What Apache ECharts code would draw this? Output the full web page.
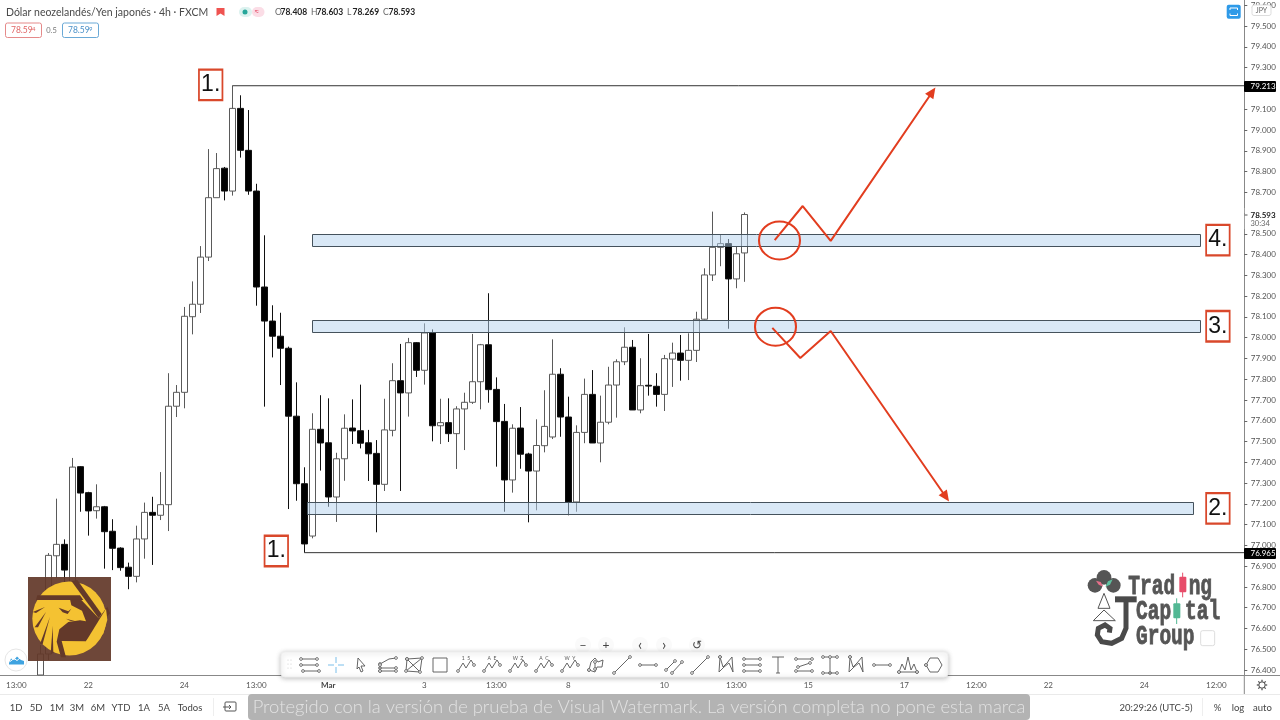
<!DOCTYPE html>
<html><head><meta charset="utf-8">
<style>html,body{margin:0;padding:0;background:#fff}#c{width:1280px;height:720px}</style>
<script src="https://cdn.jsdelivr.net/npm/echarts@6/dist/echarts.min.js"></script>
</head><body><div id="c"></div>
<script>
const firstCandleSlot = 5;
const candleOpen = [76.376,76.477,76.950,77.005,76.814,77.379,77.254,77.167,77.186,77.068,76.987,76.895,76.851,77.031,77.159,77.145,77.196,77.670,77.737,78.101,78.161,78.388,78.674,78.816,78.706,79.104,78.902,78.706,78.244,78.080,78.007,77.949,77.622,77.297,77.045,77.559,77.494,77.233,77.417,77.565,77.552,77.494,77.443,77.294,77.554,77.793,77.734,77.976,77.843,78.023,77.576,77.591,77.538,77.657,77.689,77.788,77.966,77.751,77.597,77.315,77.565,77.440,77.358,77.480,77.522,77.824,77.618,77.209,77.544,77.727,77.493,77.593,77.772,77.884,77.954,77.652,77.771,77.766,77.727,77.897,77.926,77.891,77.939,78.089,78.302,78.435,78.453,78.283,78.408];
const candleClose = [76.477,76.952,77.005,76.881,77.377,77.252,77.166,77.186,77.066,76.986,76.893,76.851,77.031,77.159,77.145,77.196,77.670,77.737,78.103,78.161,78.388,78.674,78.814,78.706,79.104,78.902,78.706,78.244,78.080,78.007,77.949,77.622,77.297,77.007,77.559,77.493,77.233,77.417,77.564,77.551,77.492,77.441,77.294,77.556,77.793,77.734,77.976,77.843,78.023,77.576,77.591,77.538,77.657,77.689,77.788,77.966,77.750,77.596,77.315,77.564,77.439,77.358,77.481,77.573,77.824,77.618,77.209,77.544,77.727,77.493,77.593,77.772,77.884,77.954,77.652,77.769,77.767,77.727,77.899,77.926,77.891,77.939,78.089,78.302,78.435,78.453,78.283,78.404,78.593];
const candleLow = [76.376,76.448,76.843,76.824,76.785,77.162,77.047,77.129,76.888,76.881,76.878,76.789,76.822,76.936,76.906,77.122,77.069,77.618,77.660,78.016,78.119,78.369,78.674,78.661,78.684,78.867,78.688,78.154,77.668,77.905,77.772,77.175,77.215,76.965,77.034,77.360,77.186,77.113,77.311,77.488,77.467,77.310,77.063,77.262,77.525,77.262,77.620,77.811,77.774,77.501,77.488,77.498,77.368,77.459,77.681,77.655,77.687,77.379,77.162,77.254,77.369,77.111,77.169,77.448,77.512,77.523,77.145,77.162,77.492,77.493,77.400,77.583,77.615,77.868,77.652,77.636,77.721,77.668,77.647,77.763,77.793,77.796,77.883,78.087,78.273,78.344,78.043,78.238,78.269];
const candleHigh = [76.520,76.963,77.225,77.029,77.421,77.382,77.258,77.294,77.190,77.126,76.991,76.917,77.095,77.206,77.234,77.353,77.829,77.772,78.148,78.271,78.441,78.908,78.889,78.822,79.213,79.167,79.096,78.741,78.493,78.156,78.120,77.957,77.785,77.376,77.636,77.723,77.708,77.446,77.631,77.703,77.774,77.556,77.507,77.706,77.877,77.970,77.999,77.979,78.069,78.040,77.706,77.708,77.670,77.735,78.018,77.970,78.214,77.809,77.681,77.583,77.666,77.446,77.607,77.747,77.992,77.853,77.716,77.578,77.803,77.844,77.721,77.860,77.896,78.050,77.989,77.901,78.018,77.829,77.917,77.976,78.013,78.021,78.125,78.334,78.607,78.499,78.475,78.438,78.603];

const slotCount = 156;
const timeTickSlots = [2,11,23,32,41,53,62,71,83,92,101,113,122,131,143,152];
const timeTickLabels = ['13:00','22','24','13:00','Mar','3','13:00','8','10','13:00','15','17','12:00','22','24','12:00'];
const priceTicks = [76.4,76.5,76.6,76.7,76.8,76.9,77.0,77.1,77.2,77.3,77.4,77.5,77.6,77.7,77.8,77.9,78.0,78.1,78.2,78.3,78.4,78.5,78.6,78.7,78.8,78.9,79.0,79.1,79.2,79.3,79.4,79.5,79.6];
const priceMin = 76.376, priceMax = 79.6258;

const zoneStart = [38.96,38.96,38.3];
const zoneEnd = [149.96,149.96,149];
const zoneUpper = [78.498,78.084,77.209];
const zoneLower = [78.440,78.024,77.150];

const levelStart = [29,38];
const levelPrice = [79.213,76.965];

const upPathSlot = [96.8,100.3,103.8,116.5];
const upPathPrice = [78.470,78.634,78.466,79.183];
const downPathSlot = [96.5,100,103.8,118.2];
const downPathPrice = [78.047,77.902,78.032,77.233];

const circleSlot = [97.4,96.9];
const circlePrice = [78.468,78.053];

const boxText = ['1.','1.','2.','3.','4.'];
const boxSlot = [26.3,34.5,152.2,152.2,152.2];
const boxPrice = [79.217,76.973,77.178,78.055,78.470];

const font = 'Lato, "Open Sans", sans-serif';
const G = [];
const Z = 50;
function txt(x,y,text,size,fill,align,weight,fam){G.push({type:'text',z:Z+3,silent:true,style:{x,y,text,fill:fill||'#444',align:align||'left',verticalAlign:'middle',font:(weight||'normal')+' '+size+'px '+(fam||font)}});}
function rect(x,y,w,h,fill,stroke,r,lw,op,zz){G.push({type:'rect',z:zz||Z,silent:true,shape:{x,y,width:w,height:h,r:r||0},style:{fill:fill||'none',stroke:stroke||'none',lineWidth:lw||1,opacity:op==null?1:op}});}
function line(pts,stroke,lw,zz){G.push({type:'polyline',z:zz||Z+2,silent:true,shape:{points:pts},style:{fill:'none',stroke:stroke||'#555',lineWidth:lw||1}});}
function poly(pts,fill,zz){G.push({type:'polygon',z:zz||Z+2,silent:true,shape:{points:pts},style:{fill}});}
function circ(cx,cy,r,fill,stroke,lw,zz){G.push({type:'circle',z:zz||Z+2,silent:true,shape:{cx,cy,r},style:{fill:fill||'none',stroke:stroke||'none',lineWidth:lw||1}});}

// header
txt(6,12.5,'Dólar neozelandés/Yen japonés · 4h · FXCM',10.5,'#4a4a4a');
poly([[216.5,8],[224.5,8],[224.5,16],[220.5,13.5],[216.5,16]],'#ef5350');
rect(239,7,13,10,'#dcf2ef',null,5); rect(252,7,12.5,10,'#fbdde6',null,5);
circ(245,12,2.5,'#26a69a'); txt(256.5,12,'≈',9,'#e5536e','center');
[[275,'O','78.408'],[311,'H','78.603'],[347,'L','78.269'],[383,'C','78.593']].forEach(r=>{txt(r[0],12.5,r[1],8.5,'#666');txt(r[0]+5.5,12.5,r[2],8.5,'#222','left','bold');});
rect(5.5,23,36,14.5,'#fff','#e58a8a',2); txt(11,30.5,'78.59',8.5,'#e06666'); txt(32,29,'4',6,'#e06666');
txt(51.5,30.5,'0.5',7.5,'#777','center');
rect(62.5,23,36,14.5,'#fff','#6aa9d6',2); txt(68,30.5,'78.59',8.5,'#4a90c8'); txt(89,29,'9',6,'#4a90c8');

// right side
rect(1226.7,4.7,14,14,'#2e9ae8',null,2);
line([[1230,10],[1230,8],[1237.5,8],[1237.5,10]],'#fff',1); line([[1230,13.5],[1230,15.5],[1237.5,15.5],[1237.5,13.5]],'#fff',1);
rect(1252,5,19,10.5,'#fff','#ddd',2); txt(1261.5,10.5,'JPY',7,'#666','center');
rect(1244.8,208,35,21,'#fff');
line([[1244.5,215],[1247.5,215]],'#555',1); txt(1250.5,215,'78.593',8,'#222','left','bold'); txt(1250.5,224,'30:34',7.5,'#666');
rect(1244,81,32,11,'#000',null,1); txt(1250.5,86.7,'79.213',8,'#fff');
rect(1244,548,32,11,'#000',null,1); txt(1250.5,553.7,'76.965',8,'#fff');
line([[1244.3,675],[1244.3,694]],'#888',1);
line([[1244.3,675.5],[1280,675.5]],'#888',1);
circ(1262,685,3.2,'#fff','#444',1);
for(let a=0;a<8;a++){const t=a*Math.PI/4;line([[1262+3.4*Math.cos(t),685+3.4*Math.sin(t)],[1262+5.2*Math.cos(t),685+5.2*Math.sin(t)]],'#444',1.2);}

// bottom bar
rect(0,694,1280,26,'#fff',null,0,1,1,Z-1);
line([[0,694.5],[1280,694.5]],'#eaeaea',1,Z);
[[16,'1D'],[36,'5D'],[57,'1M'],[77,'3M'],[98,'6M'],[121,'YTD'],[144,'1A'],[164,'5A'],[190,'Todos']].forEach(r=>txt(r[0],707.5,r[1],9.5,'#444','center'));
line([[213.5,698],[213.5,716]],'#eee',1);
rect(225,702,11,9,'none','#555',1); line([[223,707],[231,707]],'#555',1); line([[229,705],[231,707],[229,709]],'#555',1);
txt(1156,707.5,'20:29:26 (UTC-5)',9.5,'#444','center');
line([[1202.5,698],[1202.5,716]],'#eee',1);
txt(1217.5,707.5,'%',9.5,'#444','center'); txt(1238,707.5,'log',9.5,'#444','center'); txt(1262.5,707.5,'auto',9.5,'#444','center');
// watermark
rect(248,694,782,26,'#b3b3b3',null,4,1,1,Z+1);
txt(639,707.5,'Protegido con la versión de prueba de Visual Watermark. La versión completa no pone esta marca',18.4,'#e2e2e2','center','300');

// cloud
circ(16,660,11,'#fff','#e6e6e6',1);
poly([[9,663],[11,658.5],[14,660],[17,656.5],[21,660],[24,661],[24,664.5],[9,664.5]],'#3fa3e0');
line([[10,661.5],[14,658.5],[17,660.5],[20,658]],'#fff',1);

// eagle logo
rect(28,577,83,84,'#63392a',null,0,1,0.93,Z);
circ(69.3,618.5,37,'#f4c232');
function E(x,y){return [x/3,570+y/3];}
const brown='#63392a';
poly([E(214,33),E(232,30),E(305,132),E(296,145)],brown,Z+3);
poly([E(112,76),E(240,76),E(250,90),E(108,90)],brown,Z+3);
poly([E(242,88),E(296,145),E(322,110),E(330,130),E(258,214),E(185,213),E(198,262),E(183,262),E(170,215),E(178,178),E(205,156),E(240,151),E(258,154),E(246,122),E(214,106),E(210,88)],brown,Z+3);
poly([E(318,116),E(322,150),E(310,190),E(292,213),E(258,214)],'#f4c232',Z+4);
poly([E(176,113),E(205,124),E(214,116),E(203,132),E(188,127)],brown,Z+3);
poly([E(198,146),E(245,158),E(210,152)],brown,Z+3);
poly([E(98,126),E(135,111),E(108,129)],brown,Z+3);
poly([E(104,172),E(138,126),E(114,172)],brown,Z+3);
poly([E(120,222),E(150,140),E(128,222)],brown,Z+3);
poly([E(152,250),E(158,168),E(160,250)],brown,Z+3);

// trading capital group logo
function L(x,y){return [1070+x/3,560+y/3];}
function lc(x,y,r,fill,st,lw){const p=L(x,y);circ(p[0],p[1],r/3,fill,st,lw,Z);}
lc(102,52,22,'#555'); lc(75,76,22,'#555'); lc(130,76,22,'#555');
poly([L(78,62),L(92,66),L(100,80),L(86,74)],'#e76f8a',Z);
poly([L(128,58),L(114,64),L(106,80),L(120,74)],'#5fbf9f',Z);
line([L(102,100),L(84,145),L(120,145),L(102,100)],'#555',1,Z);
line([L(102,150),L(70,182),L(136,182),L(102,150)],'#555',1,Z);
line([L(135,118),L(200,118)],'#4a4a4a',6,Z);
line([L(168,118),L(168,205),L(155,235),L(125,250),L(95,245),L(82,225),L(85,205),L(105,195),L(120,205),L(118,218)],'#4a4a4a',5,Z);
function ltext(x,y,text,sx,sy,fs){const p=L(x,y);G.push({type:'text',z:Z,silent:true,x:p[0],y:p[1],scaleX:sx,scaleY:sy,style:{x:0,y:0,text,fill:'#555',stroke:'#555',lineWidth:0.6,align:'left',verticalAlign:'middle',font:'bold '+fs+'px "Liberation Mono",monospace'}});}
ltext(175,80,'Trad',1,1.45,19.5); ltext(356,80,'ng',1,1.45,19.5);
ltext(198,155,'Cap',1,1.45,19.5); ltext(345,155,'tal',1,1.45,19.5);
ltext(198,232,'Group',1,1.45,19.5);
line([L(338,38),L(338,112)],'#e74c6a',1,Z); rect(L(328,0)[0],L(0,50)[1],7,15.5,'#e74c6a',null,1,1,1,Z);
line([L(320,115),L(320,192)],'#52b894',1,Z); rect(L(310,0)[0],L(0,130)[1],7,15,'#52b894',null,1,1,1,Z);
rect(L(392,0)[0],L(0,212)[1],14,15,'none','#ddd',2,1,1,Z);

// nav buttons
[[583,'−',12],[606,'+',12],[640,'‹',15],[664,'›',15],[697,'↺',12]].forEach(r=>{circ(r[0],645,8,'#fafafa',null,1,Z);txt(r[0],645,r[1],r[2],'#444','center');});
// toolbar
G.push({type:'rect',z:Z+1,silent:true,shape:{x:281,y:652,width:667,height:25,r:4},style:{fill:'#fff',stroke:'#eee',shadowBlur:5,shadowColor:'rgba(0,0,0,.25)',shadowOffsetY:1}});
const toolCenters=[310,336,361,388,414,440,466,492,518,544,570,596,622,648,674,700,726,752,778,804,830,856,882,908,934];
const zig=[[-8,6],[-3,-2],[0,3],[5,-5],[8,0]];
const xshape=[[-6,-8],[-7,7],[-2,2],[3,-2],[7,7],[6,-8],[1,-2],[-3,2],[-6,-8]];
const toolIcons=[
 [[[-9,-6],[7,-6]],[[-9,0],[7,0]],[[-7,6],[9,6]]],
 [[[-8,0],[-2,0]],[[2,0],[8,0]],[[0,-8],[0,-2]],[[0,2],[0,8]]],
 [[[-3,-7],[4,1],[0,1],[2,6],[0,7],[-2,2],[-4,4],[-3,-7]]],
 [[[-8,-1],[1,-6],[8,-7]],[[-8,3],[8,3]],[[-8,6],[8,6]],[[-8,0],[-8,6]]],
 [[[-7,-6],[8,-7],[6,7],[-8,6],[-7,-6]],[[-7,-6],[6,7]],[[8,-7],[-8,6]]],
 [[[-7,-7],[7,-7],[7,7],[-7,7],[-7,-7]]],
 [zig],[zig],[zig],[zig],[zig],
 [[[-7,5],[-5,-3],[-1,-7],[2,-3],[7,-5],[6,2],[1,2],[-1,7],[-7,5]],[[-1,-3],[-1,4]]],
 [[[-8,8],[8,-8]]],
 [[[-8,0],[8,0]]],
 [[[-8,5],[1,-4]],[[-2,8],[8,-3]]],
 [[[-8,8],[8,-8]]],
 [xshape],
 [[[-8,-6],[8,-6]],[[-8,0],[8,0]],[[-8,6],[8,6]]],
 [[[-6,-8],[6,-8]],[[0,-8],[0,8]],[[-2,8],[2,8]]],
 [[[-8,-6],[8,-6]],[[-8,6],[8,6]],[[-6,2],[6,-2]]],
 [[[-7,-8],[7,-8]],[[0,-8],[0,8]],[[-7,8],[7,8]]],
 [xshape],
 [[[-8,0],[8,0]]],
 [[[-9,7],[-6,-1],[-3,5],[0,-8],[3,5],[6,-1],[9,7]],[[-9,7],[9,7]]],
 [[[-8,0],[-4,-7],[4,-7],[8,0],[4,7],[-4,7],[-8,0]]]
];
toolCenters.forEach((cx,i)=>{
  const col=i===1?'#6cb8e8':'#555';
  toolIcons[i].forEach(pl=>{
    line(pl.map(p=>[cx+p[0],665+p[1]]),col,0.9,Z+3);
    if(i!==1&&i!==2&&i!==5&&i!==18){const a=pl[0],b=pl[pl.length-1];[a,b].forEach(p=>circ(cx+p[0],665+p[1],1.4,'#fff','#555',0.8,Z+3));}
  });
});
['1  5','A  E','W  Z','A  C','W  Y'].forEach((t,i)=>txt(toolCenters[6+i],658,t,5,'#555','center'));
[[288,660],[291,660],[288,664],[291,664],[288,668],[291,668]].forEach(p=>circ(p[0],p[1],0.6,'#ccc',null,1,Z+3));

const categories = Array.from({length:slotCount},(_,i)=>{const j=timeTickSlots.indexOf(i);return j>=0?timeTickLabels[j]:'s'+i;});
const isTimeTick = i => timeTickSlots.indexOf(i)>=0;
const candleData = candleOpen.map((o,i)=>[firstCandleSlot+i,o,candleClose[i],candleLow[i],candleHigh[i]]);
const RED='#e23d1f';
function pathSeries(xs,ys,rot){
  return {type:'line',xAxisIndex:1,z:6,silent:true,showSymbol:true,
    symbol:'none',lineStyle:{color:RED,width:2},itemStyle:{color:RED},
    data:xs.map((x,i)=>i===xs.length-1?{value:[x,ys[i]],symbol:'triangle',symbolSize:[10,11],symbolRotate:rot}:[x,ys[i]])};
}
const option={
  animation:false,
  backgroundColor:'#fff',
  grid:{left:-3.7,width:1248,top:0,height:675,containLabel:false,outerBoundsMode:'none'},
  xAxis:[
   {type:'category',data:categories,boundaryGap:true,
    axisLine:{onZero:false,lineStyle:{color:'#888',width:1}},
    axisTick:{alignWithLabel:true,length:3,lineStyle:{color:'#666'},interval:(i)=>isTimeTick(i)},
    axisLabel:{interval:(i)=>isTimeTick(i),margin:6,fontSize:8,color:'#555',fontFamily:font,
      formatter:v=>v==='Mar'?'{b|Mar}':v,rich:{b:{fontWeight:'bold',fontSize:8,color:'#444',fontFamily:font}}},
    splitLine:{show:false}},
   {type:'value',min:-0.5,max:slotCount-0.5,show:false,splitLine:{show:false}}
  ],
  yAxis:{type:'value',position:'right',min:priceMin,max:priceMax,scale:true,
    axisLine:{show:true,onZero:false,lineStyle:{color:'#888',width:1}},
    axisTick:{show:true,length:3,lineStyle:{color:'#666'},customValues:priceTicks},
    axisLabel:{margin:6.5,fontSize:8,color:'#555',fontFamily:font,customValues:priceTicks,formatter:v=>(+v).toFixed(3)},
    splitLine:{show:false}},
  series:[
   {type:'candlestick',xAxisIndex:0,z:2,barWidth:6,silent:true,data:candleData,encode:{x:0,y:[1,2,3,4]},
    itemStyle:{color:'#fff',color0:'#000',borderColor:'#5a5a5a',borderColor0:'#111',borderColorDoji:'#111',borderWidth:1}},
   {type:'custom',xAxisIndex:1,z:3,silent:true,clip:false,
    data:zoneStart.map((s,i)=>[s,zoneEnd[i],zoneUpper[i],zoneLower[i]]),
    encode:{x:[0,1],y:[2,3]},
    renderItem:(p,api)=>{const a=api.coord([api.value(0),api.value(2)]),b=api.coord([api.value(1),api.value(3)]);
      return {type:'rect',shape:{x:Math.round(a[0])+.5,y:Math.round(a[1])+.5,width:Math.round(b[0]-a[0]),height:Math.round(b[1]-a[1])},
        style:{fill:'rgba(180,210,238,0.5)',stroke:'#45525c',lineWidth:1}};}},
   ...levelPrice.map((p,i)=>({type:'line',xAxisIndex:1,z:3,silent:true,symbol:'none',lineStyle:{color:'#333',width:1},
      data:[[levelStart[i],p],[slotCount-0.5,p]]})),
   pathSeries(upPathSlot,upPathPrice,-34),
   pathSeries(downPathSlot,downPathPrice,-145),
   {type:'scatter',xAxisIndex:1,z:5,silent:true,symbol:'circle',symbolSize:[41,38],
    itemStyle:{color:'rgba(0,0,0,0)',borderColor:RED,borderWidth:2,opacity:1},
    data:circleSlot.map((s,i)=>[s,circlePrice[i]])},
   {type:'scatter',xAxisIndex:1,z:7,silent:true,symbol:'rect',symbolSize:[23.5,30.5],
    itemStyle:{color:'#fff',borderColor:'#d9482b',borderWidth:2,opacity:1},
    label:{show:true,position:'inside',formatter:p=>boxText[p.dataIndex],fontSize:23,color:'#111',fontFamily:'"Liberation Sans",Arial,sans-serif'},
    data:boxSlot.map((s,i)=>[s,boxPrice[i]])}
  ],
  graphic:{elements:G}
};
echarts.init(document.getElementById('c'),null,{renderer:'canvas'}).setOption(option);
</script></body></html>
